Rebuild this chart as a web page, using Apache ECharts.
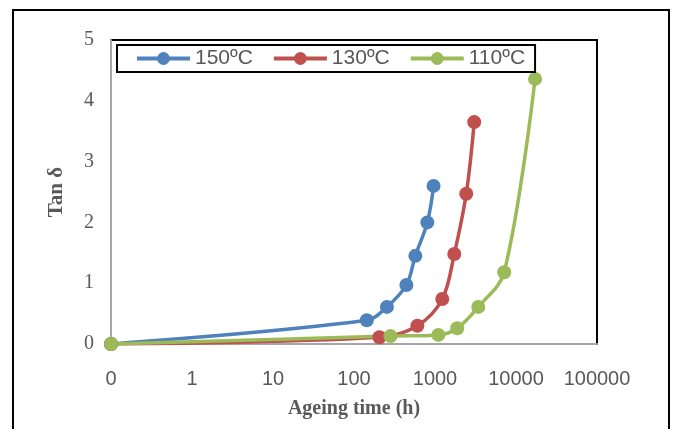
<!DOCTYPE html>
<html><head><meta charset="utf-8">
<script src="https://cdn.jsdelivr.net/npm/echarts@6/dist/echarts.min.js"></script>
<style>html,body{margin:0;padding:0;background:#fff}#c{width:674px;height:429px}</style>
</head><body><div id="c"></div>
<script>
const seriesNames = ['150ºC', '130ºC', '110ºC'];
const colors = ['#4F81BD', '#C0504D', '#9BBB59'];
const time150 = [0, 144, 255, 443, 572, 804, 960];
const tan150 = [0, 0.39, 0.61, 0.97, 1.45, 2.0, 2.6];
const time130 = [0, 206, 606, 1230, 1730, 2430, 3050];
const tan130 = [0, 0.11, 0.30, 0.74, 1.48, 2.47, 3.65];
const time110 = [0, 282, 1100, 1880, 3420, 7150, 17200];
const tan110 = [0, 0.13, 0.15, 0.26, 0.61, 1.18, 4.36];
const xTickLabels = ['0', '1', '10', '100', '1000', '10000', '100000'];
const yTicks = [0, 1, 2, 3, 4, 5];

const AXIS_FLOOR = 0.1; // log axis cannot show 0; first decade is labelled "0"
function pairs(t, v) { return t.map((x, i) => [x <= 0 ? AXIS_FLOOR : x, v[i]]); }
const allData = [pairs(time150, tan150), pairs(time130, tan130), pairs(time110, tan110)];

const chart = echarts.init(document.getElementById('c'));
chart.setOption({
  animation: false,
  grid: { left: 111, right: 77, top: 40, bottom: 85, show: true, borderColor: '#000', borderWidth: 2, backgroundColor: 'transparent' },
  graphic: [{ type: 'rect', shape: { x: 13, y: 10, width: 656, height: 440 }, style: { fill: 'none', stroke: '#000', lineWidth: 2 } }],
  legend: {
    left: 117, top: 45, padding: [3, 10, 3, 18], borderColor: '#000', borderWidth: 2, borderRadius: 0,
    itemWidth: 53, itemHeight: 16, itemGap: 19,
    lineStyle: { width: 4 },
    textStyle: { fontFamily: 'Liberation Sans', fontSize: 21, color: '#595959', padding: [0, 0, 0, 0] },
    data: seriesNames
  },
  xAxis: {
    type: 'log', logBase: 10, min: AXIS_FLOOR, max: 100000,
    axisLine: { lineStyle: { color: '#a6a6a6', width: 2 } },
    axisTick: { show: false }, splitLine: { show: false }, minorTick: { show: false },
    axisLabel: {
      margin: 25, fontFamily: 'Liberation Sans', fontSize: 20, color: '#595959',
      formatter: v => xTickLabels[Math.round(Math.log10(v)) + 1]
    },
    name: 'Ageing time (h)', nameLocation: 'middle', nameGap: 55,
    nameTextStyle: { fontFamily: 'Liberation Serif', fontWeight: 'bold', fontSize: 20, color: '#595959' }
  },
  yAxis: {
    type: 'value', min: yTicks[0], max: yTicks[yTicks.length - 1], interval: 1,
    axisLine: { show: true, lineStyle: { color: '#a6a6a6', width: 2 } },
    axisTick: { show: false }, splitLine: { show: false },
    axisLabel: { margin: 17, fontFamily: 'Liberation Serif', fontSize: 20, color: '#595959' },
    name: 'Tan δ', nameLocation: 'middle', nameGap: 44, nameRotate: 90,
    nameTextStyle: { fontFamily: 'Liberation Serif', fontWeight: 'bold', fontSize: 21, color: '#595959' }
  },
  series: seriesNames.map((n, i) => ({
    name: n, type: 'line', data: allData[i], smooth: 0.35,
    symbol: 'circle', symbolSize: 14,
    lineStyle: { color: colors[i], width: 3.5 },
    itemStyle: { color: colors[i] }
  }))
});
</script></body></html>
